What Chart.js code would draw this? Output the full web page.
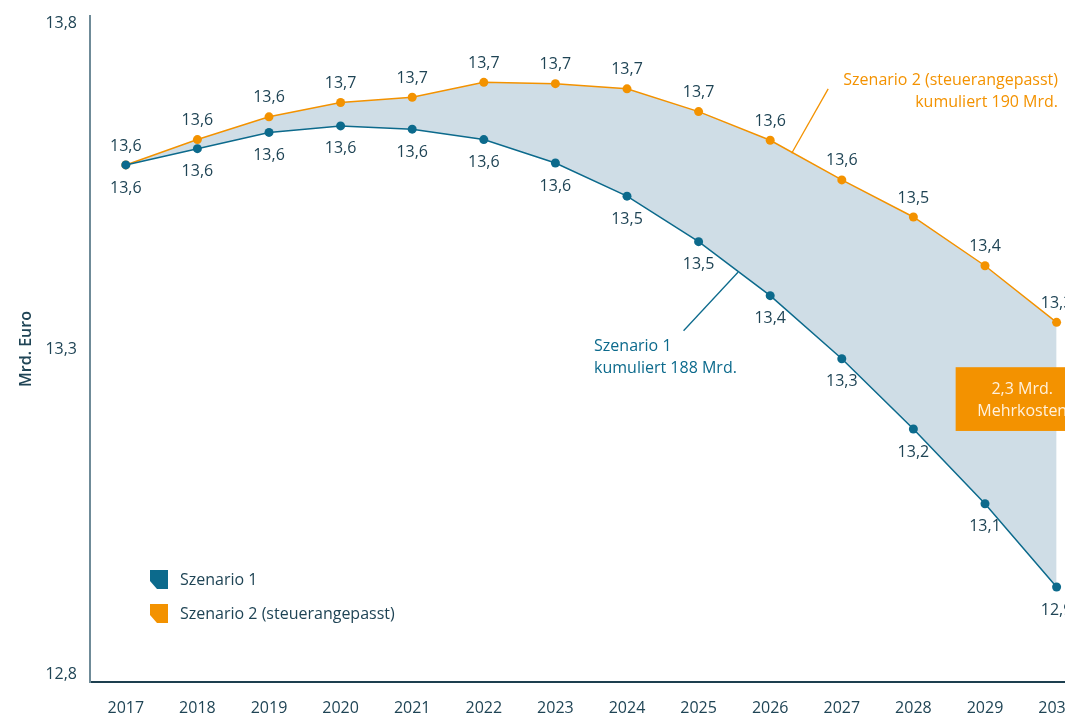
<!DOCTYPE html>
<html>
<head>
<meta charset="utf-8">
<script src="https://cdn.jsdelivr.net/npm/chart.js@4.4.1/dist/chart.umd.min.js"></script>
<style>
  html, body { margin: 0; padding: 0; background: #fff; overflow: hidden; }
  #wrap { position: absolute; left: 0; top: 0; width: 1100px; height: 718px; }
</style>
</head>
<body>
<div id="wrap"><canvas id="kosten_chart"></canvas></div>
<script>
// values
const years = ['2017','2018','2019','2020','2021','2022','2023','2024','2025','2026','2027','2028','2029','2030'];
const szenario1 = [13.583, 13.608, 13.633, 13.643, 13.638, 13.622, 13.586, 13.535, 13.465, 13.382, 13.285, 13.177, 13.062, 12.934];
const szenario2 = [13.583, 13.622, 13.657, 13.679, 13.687, 13.710, 13.708, 13.700, 13.665, 13.621, 13.560, 13.503, 13.428, 13.341];
const labels1 = ['13,6','13,6','13,6','13,6','13,6','13,6','13,6','13,5','13,5','13,4','13,3','13,2','13,1','12,9'];
const labels2 = ['13,6','13,6','13,6','13,7','13,7','13,7','13,7','13,7','13,7','13,6','13,6','13,5','13,4','13,3'];
const yTicks = [12.8, 13.3, 13.8];
const yTickLabels = ['12,8', '13,3', '13,8'];

const BLUE = '#0c6a8c';
const ORANGE = '#f39200';
const TEXT = '#1f4455';
const FONT = '"Open Sans", Roboto, sans-serif';

// draws the value labels above / below each point
const valueLabels = {
    id: 'valueLabels',
    afterDatasetsDraw(chart){
        const ctx = chart.ctx;
        ctx.save();
        ctx.font = '16px ' + FONT;
        ctx.fillStyle = TEXT;
        ctx.textAlign = 'center';
        ctx.textBaseline = 'middle';
        chart.getDatasetMeta(0).data.forEach((p, i) => ctx.fillText(labels1[i], p.x, p.y + 23));
        chart.getDatasetMeta(1).data.forEach((p, i) => ctx.fillText(labels2[i], p.x, p.y - 19));
        ctx.restore();
    }
};

// notes, leader lines, box and legend
const notes = {
    id: 'notes',
    afterDraw(chart){
        const ctx = chart.ctx;
        const xs = chart.scales.x, ys = chart.scales.y;
        const px = v => xs.getPixelForValue(v);
        const py = v => ys.getPixelForValue(v);
        const area = chart.chartArea;
        ctx.save();

        // leader lines
        ctx.lineWidth = 1.3;
        ctx.strokeStyle = ORANGE;
        ctx.beginPath(); ctx.moveTo(px(9.30), py(13.601)); ctx.lineTo(px(9.81), py(13.700)); ctx.stroke();
        ctx.strokeStyle = BLUE;
        ctx.beginPath(); ctx.moveTo(px(8.55), py(13.418)); ctx.lineTo(px(7.79), py(13.328)); ctx.stroke();

        ctx.font = '16px ' + FONT;
        ctx.textBaseline = 'middle';
        ctx.fillStyle = ORANGE;
        ctx.textAlign = 'right';
        ctx.fillText('Szenario 2 (steuerangepasst)', px(13.02), py(13.713));
        ctx.fillText('kumuliert 190 Mrd.', px(13.02), py(13.679));
        ctx.fillStyle = BLUE;
        ctx.textAlign = 'left';
        ctx.fillText('Szenario 1', px(6.54), py(13.304));
        ctx.fillText('kumuliert 188 Mrd.', px(6.54), py(13.270));

        // Mehrkosten box
        const bx = px(11.59), by = py(13.272);
        ctx.fillStyle = ORANGE;
        ctx.fillRect(bx, by, px(13.66) - bx, py(13.174) - by);
        ctx.fillStyle = '#fff1dc';
        ctx.textAlign = 'center';
        ctx.font = '16px ' + FONT;
        ctx.fillText('2,3 Mrd.', px(12.52), py(13.238));
        ctx.fillText('Mehrkosten', px(12.52), py(13.204));

        // legend
        const items = [['Szenario 1', BLUE], ['Szenario 2 (steuerangepasst)', ORANGE]];
        items.forEach((it, k) => {
            const x = area.left + 60, y = area.bottom - 112 + k * 34;
            ctx.fillStyle = it[1];
            ctx.beginPath();
            ctx.moveTo(x, y); ctx.lineTo(x + 18, y); ctx.lineTo(x + 18, y + 19);
            ctx.lineTo(x + 7, y + 19); ctx.lineTo(x, y + 11); ctx.closePath();
            ctx.fill();
            ctx.fillStyle = TEXT;
            ctx.font = '16px ' + FONT;
            ctx.textAlign = 'left';
            ctx.fillText(it[0], x + 30, y + 10.5);
        });
        ctx.restore();
    }
};

let chart = new Chart('kosten_chart', {
    type: 'line',
    data: {
        labels: years,
        datasets: [{
            label: 'Szenario 1',
            data: szenario1,
            borderColor: BLUE,
            backgroundColor: BLUE,
            borderWidth: 1.5,
            pointRadius: 4.5,
            pointBorderWidth: 0,
            lineTension: 0,
            fill: false
        },{
            label: 'Szenario 2 (steuerangepasst)',
            data: szenario2,
            borderColor: ORANGE,
            pointBackgroundColor: ORANGE,
            backgroundColor: '#cfdde6',
            borderWidth: 1.5,
            pointRadius: 4.5,
            pointBorderWidth: 0,
            lineTension: 0,
            fill: '-1'
        }]
    },
    options: {
        responsive: true,
        maintainAspectRatio: false,
        animation: false,
        events: [],
        layout: { padding: { top: 16, right: 7.6, left: 0, bottom: 0 } },
        plugins: { legend: { display: false }, tooltip: { enabled: false } },
        scales: {
            x: {
                offset: true,
                grid: { display: false, drawTicks: false },
                border: { display: true, color: '#1d3f4f', width: 2 },
                ticks: { color: TEXT, font: { family: FONT, size: 16 }, padding: 17, maxRotation: 0, autoSkip: false },
                afterFit(scale){ scale.height = 36; }
            },
            y: {
                min: 12.788,
                max: 13.812,
                grid: { display: false, drawTicks: false },
                border: { display: true, color: '#6f8b98', width: 2 },
                afterBuildTicks(scale){ scale.ticks = yTicks.map(v => ({ value: v })); },
                ticks: {
                    color: TEXT,
                    font: { family: FONT, size: 16 },
                    padding: 13,
                    callback: (v) => yTickLabels[yTicks.indexOf(v)]
                },
                title: {
                    display: true,
                    text: 'Mrd. Euro',
                    color: TEXT,
                    font: { family: FONT, size: 16, weight: '600' },
                    padding: { top: 17, bottom: 0 }
                },
                afterFit(scale){
                    scale.width = 90;
                    scale.paddingTop = 0;
                    scale.paddingBottom = 0;
                }
            }
        }
    },
    plugins: [valueLabels, notes]
});
</script>
</body>
</html>
